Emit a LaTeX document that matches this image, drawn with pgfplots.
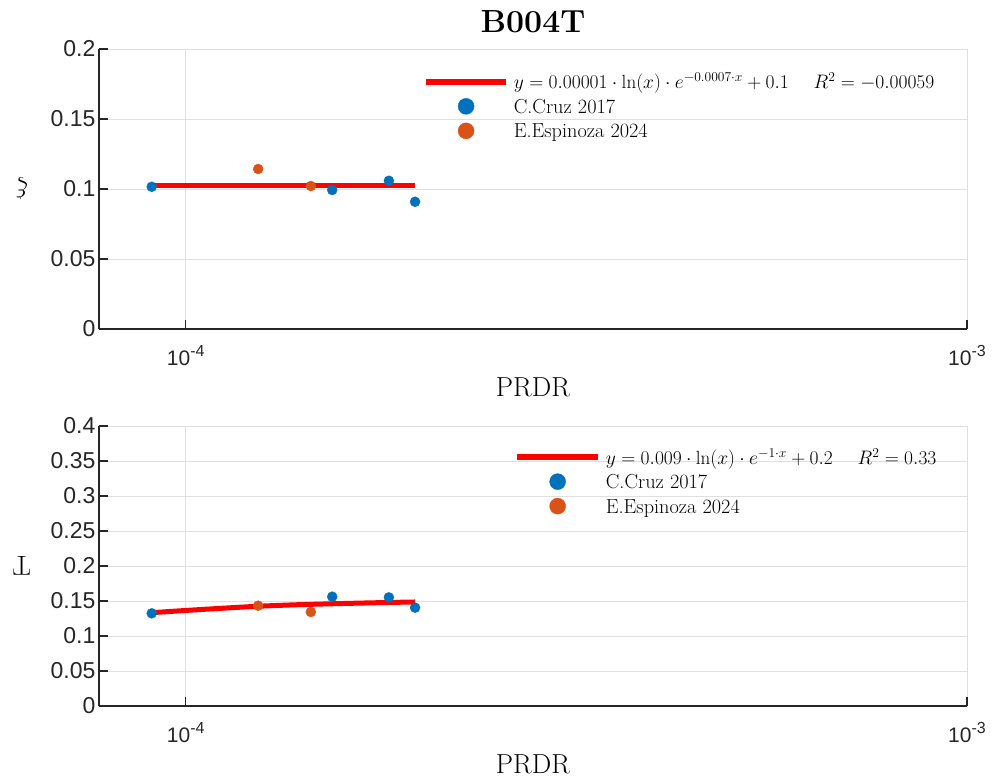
\documentclass[border=0pt]{standalone}
\usepackage{pgfplots}
\pgfplotsset{compat=1.18}
\usepackage{fontspec}
\setsansfont{Liberation Sans}
\definecolor{mblue}{RGB}{0,114,189}
\definecolor{morange}{RGB}{217,83,25}
\definecolor{gridgray}{RGB}{223,223,223}
\definecolor{axdark}{RGB}{38,38,38}
\newcommand{\tenpow}[1]{10\raisebox{9pt}{\fontsize{16}{16}\selectfont #1}}
\begin{document}
\begin{tikzpicture}
\useasboundingbox (0,0) rectangle (995pt,-783pt);
\begin{axis}[at={(99pt,-49pt)},
  scale only axis, width=868pt, height=280pt,
  anchor=north west,
  xmode=log, xmin=7.744e-5, xmax=1e-3,
  xtick={1e-4,1e-3}, xticklabels={\tenpow{-4},\tenpow{-3}},
  xminorticks=false, yminorticks=false,
  grid=major, major grid style={line width=0.8pt, color=gridgray},
  axis x line*=bottom, axis y line*=left,
  axis line style={line width=1.3pt, color=axdark},
  tick align=inside, major tick length=9pt,
  tick style={line width=1.3pt, color=axdark},
  yticklabel style={font=\sffamily\fontsize{23}{25}\selectfont, color=axdark},
  xticklabel style={font=\sffamily\fontsize{21}{23}\selectfont, color=axdark, yshift=-13pt},
  xlabel style={font=\fontsize{27.5}{30}\selectfont, at={(axis description cs:0.5,-0.207)}, anchor=center},
  ylabel style={font=\fontsize{27.5}{30}\selectfont, at={(axis description cs:-0.089,0.5)}, anchor=center},
  legend style={draw=none, fill=none, inner sep=0pt, outer sep=0pt, anchor=north west,
    font=\fontsize{20.3}{22}\selectfont,
    nodes={inner sep=2pt, text height=15pt, text depth=5.5pt},
    column sep=3pt},
  legend cell align=left,
  ymin=0, ymax=0.2,
  ytick={0,0.05,0.1,0.15,0.2}, yticklabels={0,0.05,0.1,0.15,0.2},
  xlabel={PRDR}, ylabel={\rotatebox{90}{$\xi$}},
  title={B004T},
  title style={font=\bfseries\fontsize{32}{36}\selectfont, at={(axis description cs:0.5,1.039)}, anchor=base},
  legend style={at={(axis description cs:0.3737,0.918)}},
]
\addlegendimage{legend image code/.code={\draw[red, line width=5.5pt] (0pt,0.55ex) -- (80pt,0.55ex);}}
\addlegendentry{\scalebox{0.94}{$y = 0.00001\cdot\ln(x)\cdot e^{-0.0007\cdot x}+0.1\hspace{1.3em}R^2=-0.00059$}}
\addlegendimage{legend image code/.code={\fill[mblue] (40pt,0.55ex) circle (8pt);}}
\addlegendentry{C.Cruz 2017}
\addlegendimage{legend image code/.code={\fill[morange] (40pt,0.55ex) circle (8pt);}}
\addlegendentry{E.Espinoza 2024}
\addplot[only marks, mark=*, mark size=5pt, color=mblue, mark options={draw=mblue, fill=mblue}, forget plot]
  coordinates {(9.046e-5,0.1016) (1.540e-4,0.0993) (1.820e-4,0.1059) (1.966e-4,0.0909)};
\addplot[only marks, mark=*, mark size=5pt, color=morange, mark options={draw=morange, fill=morange}, forget plot]
  coordinates {(1.238e-4,0.1143) (1.446e-4,0.1021)};
\addplot[red, line width=5pt, forget plot]
  coordinates {(9.046e-5,0.1024) (1.2e-4,0.1024) (1.6e-4,0.1024) (1.966e-4,0.1024)};
\end{axis}
\begin{axis}[at={(99pt,-426pt)},
  scale only axis, width=868pt, height=280pt,
  anchor=north west,
  xmode=log, xmin=7.744e-5, xmax=1e-3,
  xtick={1e-4,1e-3}, xticklabels={\tenpow{-4},\tenpow{-3}},
  xminorticks=false, yminorticks=false,
  grid=major, major grid style={line width=0.8pt, color=gridgray},
  axis x line*=bottom, axis y line*=left,
  axis line style={line width=1.3pt, color=axdark},
  tick align=inside, major tick length=9pt,
  tick style={line width=1.3pt, color=axdark},
  yticklabel style={font=\sffamily\fontsize{23}{25}\selectfont, color=axdark},
  xticklabel style={font=\sffamily\fontsize{21}{23}\selectfont, color=axdark, yshift=-13pt},
  xlabel style={font=\fontsize{27.5}{30}\selectfont, at={(axis description cs:0.5,-0.207)}, anchor=center},
  ylabel style={font=\fontsize{27.5}{30}\selectfont, at={(axis description cs:-0.089,0.5)}, anchor=center},
  legend style={draw=none, fill=none, inner sep=0pt, outer sep=0pt, anchor=north west,
    font=\fontsize{20.3}{22}\selectfont,
    nodes={inner sep=2pt, text height=15pt, text depth=5.5pt},
    column sep=3pt},
  legend cell align=left,
  ymin=0, ymax=0.4,
  ytick={0,0.05,0.1,0.15,0.2,0.25,0.3,0.35,0.4}, yticklabels={0,0.05,0.1,0.15,0.2,0.25,0.3,0.35,0.4},
  xlabel={PRDR}, ylabel={\rotatebox{90}{T}},
  legend style={at={(axis description cs:0.4786,0.924)}},
]
\addlegendimage{legend image code/.code={\draw[red, line width=5.5pt] (0pt,0.55ex) -- (81pt,0.55ex);}}
\addlegendentry{\scalebox{0.94}{$y = 0.009\cdot\ln(x)\cdot e^{-1\cdot x}+0.2\hspace{1.3em}R^2=0.33$}}
\addlegendimage{legend image code/.code={\fill[mblue] (40.5pt,0.55ex) circle (8pt);}}
\addlegendentry{C.Cruz 2017}
\addlegendimage{legend image code/.code={\fill[morange] (40.5pt,0.55ex) circle (8pt);}}
\addlegendentry{E.Espinoza 2024}
\addplot[only marks, mark=*, mark size=5pt, color=mblue, mark options={draw=mblue, fill=mblue}, forget plot]
  coordinates {(9.046e-5,0.1324) (1.540e-4,0.1562) (1.820e-4,0.1552) (1.966e-4,0.1405)};
\addplot[only marks, mark=*, mark size=5pt, color=morange, mark options={draw=morange, fill=morange}, forget plot]
  coordinates {(1.238e-4,0.1433) (1.446e-4,0.1343)};
\addplot[red, line width=5pt, smooth, forget plot]
  coordinates {(9.046e-5,0.1333) (1.0e-4,0.1365) (1.1e-4,0.1393) (1.238e-4,0.1425) (1.4e-4,0.1448) (1.6e-4,0.1465) (1.8e-4,0.1478) (1.966e-4,0.1486)};
\end{axis}
\end{tikzpicture}
\end{document}
